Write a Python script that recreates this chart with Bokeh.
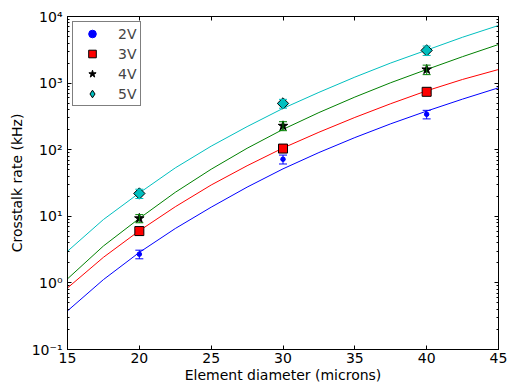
from bokeh.plotting import figure
from bokeh.models import (Range1d, FixedTicker, CustomJSTickFormatter, LinearAxis, LogAxis,
                          Whisker, TeeHead, ColumnDataSource, Legend, LegendItem)
from bokeh.embed import file_html
from bokeh.resources import INLINE
import math

# ---- data ----
diam = [20, 30, 40]
rate_2v = [2.7, 72, 340]
err_2v = [0.4, 11, 50]
rate_3v = [6.0, 104, 740]
err_3v = [0.6, 10, 70]
rate_4v = [9.3, 228, 1600]
err_4v = [1.3, 35, 260]
rate_5v = [22, 495, 3100]
err_5v = [3.5, 75, 500]

fit_x = [15, 17.5, 20, 22.5, 25, 27.5, 30, 32.5, 35, 37.5, 40, 42.5, 45]
fit_2v = [0.38, 1.12, 2.87, 6.55, 13.7, 27.4, 51.6, 90.6, 152, 245, 380, 575, 850]
fit_3v = [0.84, 2.42, 6.07, 13.9, 29.5, 57.4, 106, 183, 305, 491, 766, 1135, 1600]
fit_4v = [1.15, 3.58, 9.3, 22.9, 50.9, 105, 202, 361, 617, 1014, 1600, 2495, 3800]
fit_5v = [2.99, 8.94, 22.4, 53.3, 113, 222, 417, 726, 1230, 2005, 3126, 4885, 7330]

labels = ["2V", "3V", "4V", "5V"]
x_ticks = [15, 20, 25, 30, 35, 40, 45]
y_ticks = [0.1, 1, 10, 100, 1000, 10000]

FONT = "DejaVu Sans"

p = figure(width=507, height=387, x_range=Range1d(15, 45), y_range=Range1d(0.1, 1e4),
           y_axis_type="log", output_backend="svg", toolbar_location=None,
           min_border_left=67, min_border_right=9, min_border_top=16, min_border_bottom=38)
p.grid.visible = False
p.outline_line_color = "black"
p.background_fill_color = "white"
p.border_fill_color = "white"

y_minor = [m * d for d in y_ticks[:-1] for m in range(2, 10)]
sup_js = """
const sup = {"-":"\u207b","0":"\u2070","1":"\u00b9","2":"\u00b2","3":"\u00b3","4":"\u2074",
             "5":"\u2075","6":"\u2076","7":"\u2077","8":"\u2078","9":"\u2079"};
const e = Math.round(Math.log10(tick));
return "10" + String(e).split("").map(c => sup[c]).join("");
"""
blank_js = "return '';"

def style_axis(ax):
    ax.axis_line_color = "black"
    ax.major_tick_line_color = "black"
    ax.minor_tick_line_color = "black"
    ax.major_tick_in = 4
    ax.major_tick_out = 0
    ax.minor_tick_in = 2
    ax.minor_tick_out = 0
    ax.major_label_text_font = FONT
    ax.major_label_text_font_size = "14px"
    ax.major_label_text_color = "black"
    ax.axis_label_text_font = FONT
    ax.axis_label_text_font_size = "14px"
    ax.axis_label_text_font_style = "normal"
    ax.axis_label_text_color = "black"

xb = p.xaxis[0]
style_axis(xb)
xb.ticker = FixedTicker(ticks=x_ticks)
xb.axis_label = "Element diameter (microns)"
xb.major_label_standoff = 3
xb.axis_label_standoff = 1

yl = p.yaxis[0]
style_axis(yl)
yl.ticker = FixedTicker(ticks=y_ticks, minor_ticks=y_minor)
yl.formatter = CustomJSTickFormatter(code=sup_js)
yl.axis_label = "Crosstalk rate (kHz)"
yl.major_label_standoff = 5
yl.axis_label_standoff = 4

xt = LinearAxis(ticker=FixedTicker(ticks=x_ticks), formatter=CustomJSTickFormatter(code=blank_js))
style_axis(xt)
xt.major_label_standoff = 0
p.add_layout(xt, "above")

yr = LogAxis(ticker=FixedTicker(ticks=y_ticks, minor_ticks=y_minor),
             formatter=CustomJSTickFormatter(code=blank_js))
style_axis(yr)
yr.major_label_standoff = 0
p.add_layout(yr, "right")

colors = ["#0000ff", "#ff0000", "#008000", "#00bfbf"]
rates = [rate_2v, rate_3v, rate_4v, rate_5v]
errs = [err_2v, err_3v, err_4v, err_5v]
fits = [fit_2v, fit_3v, fit_4v, fit_5v]

items = []
for i in range(4):
    c = colors[i]
    p.line(fit_x, fits[i], line_color=c, line_width=1)

for i in range(4):
    c = colors[i]
    src = ColumnDataSource(dict(x=diam, y=rates[i],
                                lower=[r - e for r, e in zip(rates[i], errs[i])],
                                upper=[r + e for r, e in zip(rates[i], errs[i])]))
    w = Whisker(base="x", upper="upper", lower="lower", source=src, line_color=c, line_width=1,
                upper_head=TeeHead(size=8, line_color=c, line_width=1),
                lower_head=TeeHead(size=8, line_color=c, line_width=1), level="glyph")
    p.add_layout(w)
    if i == 0:
        r = p.scatter("x", "y", source=src, marker="circle", size=4.5, fill_color=c, line_color=c)
        leg = [r]
    elif i == 1:
        r = p.scatter("x", "y", source=src, marker="square", size=9, fill_color=c, line_color="black")
        leg = [r]
    elif i == 2:
        r = p.scatter("x", "y", source=src, marker="star", size=10, fill_color="black", line_color="black")
        leg = [r]
    else:
        # hidden renderer that supplies the legend icon (legend glyphs ignore rotation)
        icon = p.scatter("x", "y", source=src, marker="diamond", size=10, fill_color=c,
                         line_color="black", visible=False)
        r = p.scatter("x", "y", source=src, marker="square", size=8, angle=math.pi / 4,
                      fill_color=c, line_color="black")
        leg = [icon]
    items.append(LegendItem(label=labels[i], renderers=leg))

legend = Legend(items=items, location="top_left", margin=5, padding=2, spacing=1,
                glyph_width=34, glyph_height=19, label_standoff=9,
                label_text_font=FONT, label_text_font_size="14px",
                border_line_color="black", border_line_width=1, background_fill_alpha=1)
p.add_layout(legend, "center")

open("out.html", "w").write(file_html(p, INLINE))
